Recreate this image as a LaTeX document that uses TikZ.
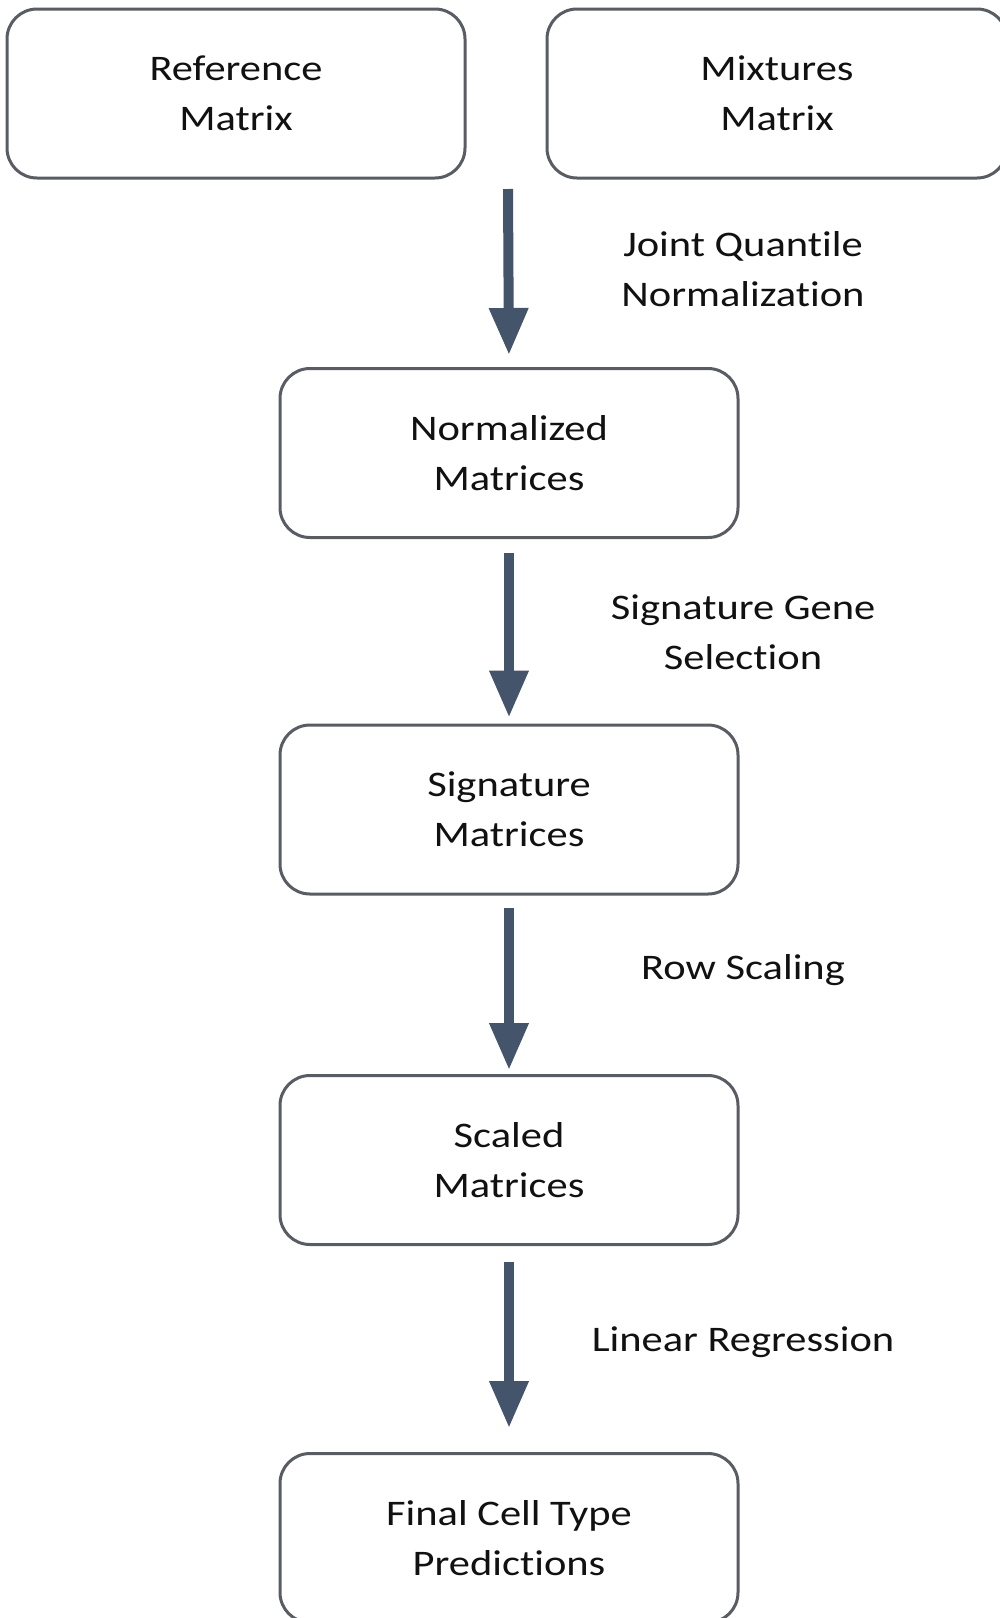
\documentclass[tikz,border=0pt]{standalone}
\usepackage{fontspec}
\setmainfont{Carlito}[Ligatures={NoCommon}, FakeStretch=1.18]
\usetikzlibrary{arrows.meta}
\definecolor{boxline}{HTML}{595D63}
\definecolor{arrowc}{HTML}{44546A}
\definecolor{txt}{HTML}{111111}
\begin{document}
\begin{tikzpicture}[x=0.5pt,y=-0.5pt,
  box/.style={draw=boxline, line width=1.5pt, rounded corners=15pt, fill=white,
    minimum width=229pt, minimum height=84.5pt, align=center, inner sep=0pt,
    font=\fontsize{18}{25}\selectfont, text=txt},
  lbl/.style={align=center, font=\fontsize{18}{25}\selectfont, text=txt},
  flow/.style={draw=arrowc, line width=5pt, -{Triangle[width=18.5pt,length=23.5pt]}}]
\useasboundingbox (0,0) rectangle (1000,1618);
\fill[white] (0,0) rectangle (1000,1618);
\node[box] (ref) at (236,93.5) {Reference\\Matrix};
\node[box, minimum width=230pt] (mix) at (777,93.5) {Mixtures\\Matrix};
\node[box] (norm) at (509,453) {Normalized\\Matrices};
\node[box] (sig) at (509,809.5) {Signature\\Matrices};
\node[box] (scal) at (509,1160) {Scaled\\Matrices};
\node[box] (fin) at (509,1538) {Final Cell Type\\Predictions};
\coordinate (start) at (508,189);
\draw[flow, shorten >=6pt] (start) -- (norm.north);
\draw[flow, shorten <=7pt, shorten >=3pt] (norm.south) -- (sig.north);
\draw[flow, shorten <=6pt, shorten >=2pt] (sig.south) -- (scal.north);
\draw[flow, shorten <=8pt, shorten >=12pt] (scal.south) -- (fin.north);
\node[lbl] (l1) at (743,269) {Joint Quantile\\Normalization};
\node[lbl] (l2) at (743,632) {Signature Gene\\Selection};
\node[lbl] (l3) at (743,970) {Row Scaling};
\node[lbl] (l4) at (743,1342) {Linear Regression};
\end{tikzpicture}
\end{document}
